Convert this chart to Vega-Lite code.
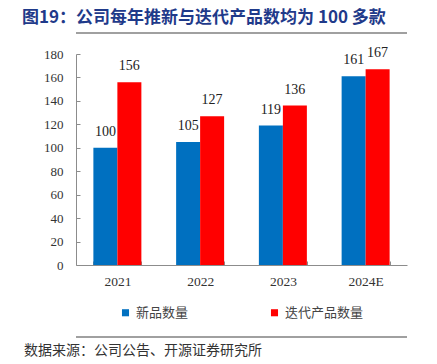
{
  "$schema": "https://vega.github.io/schema/vega-lite/v6.json",
  "background": "white",
  "padding": {"left": 22, "top": 8, "right": 5, "bottom": 5},
  "title": {
    "text": "数据来源：公司公告、开源证券研究所",
    "orient": "bottom",
    "anchor": "start",
    "frame": "group",
    "dx": -52,
    "offset": 6,
    "font": "Noto Sans CJK SC",
    "fontSize": 14,
    "fontWeight": "normal",
    "color": "#333333"
  },
  "config": {
    "view": {"stroke": null},
    "legend": {"layout": {"bottom": {"anchor": "middle"}}},
    "axis": {
      "labelFont": "Liberation Serif",
      "labelColor": "#333333",
      "domainColor": "#8c8c8c",
      "tickColor": "#8c8c8c",
      "grid": false,
      "title": null
    },
    "axisY": {
      "values": [0, 20, 40, 60, 80, 100, 120, 140, 160, 180],
      "labelFontSize": 13,
      "tickSize": -4,
      "labelPadding": 17
    }
  },
  "resolve": {"scale": {"color": "independent"}, "legend": {"color": "independent"}},
  "vconcat": [
    {
      "width": 331,
      "height": 211,
      "title": {
        "text": "图19：公司每年推新与迭代产品数均为 100 多款",
        "anchor": "start",
        "frame": "group",
        "dx": -54,
        "font": "Noto Sans CJK SC",
        "fontSize": 17,
        "fontWeight": "bold",
        "color": "#1f3a8a",
        "offset": 5
      },
      "data": {
        "values": [
          {"year": "2021", "series": "新品数量", "value": 100},
          {"year": "2021", "series": "迭代产品数量", "value": 156},
          {"year": "2022", "series": "新品数量", "value": 105},
          {"year": "2022", "series": "迭代产品数量", "value": 127},
          {"year": "2023", "series": "新品数量", "value": 119},
          {"year": "2023", "series": "迭代产品数量", "value": 136},
          {"year": "2024E", "series": "新品数量", "value": 161},
          {"year": "2024E", "series": "迭代产品数量", "value": 167}
        ]
      },
      "layer": [
        {
          "mark": {"type": "bar"},
          "encoding": {
            "x": {
              "field": "year",
              "type": "nominal",
              "sort": null,
              "scale": {"paddingInner": 0.42, "paddingOuter": 0.21},
              "axis": {
                "labelAngle": 0,
                "labelFontSize": 13.5,
                "tickBand": "extent",
                "tickSize": -4,
                "labelPadding": 13
              }
            },
            "xOffset": {"field": "series", "type": "nominal", "sort": ["新品数量", "迭代产品数量"]},
            "y": {
              "field": "value",
              "type": "quantitative",
              "scale": {"domain": [0, 180]}
            },
            "color": {
              "field": "series",
              "type": "nominal",
              "sort": ["新品数量", "迭代产品数量"],
              "scale": {"range": ["#0070c0", "#ff0000"]},
              "legend": {
                "orient": "bottom",
                "direction": "horizontal",
                "title": null,
                "symbolType": "square",
                "symbolSize": 50,
                "labelFont": "Noto Sans CJK SC",
                "labelFontSize": 13,
                "labelColor": "#444444",
                "labelOffset": 4,
                "columnPadding": 79,
                "offset": 18
              }
            }
          }
        },
        {
          "mark": {"type": "text", "baseline": "bottom", "dy": -9, "font": "Liberation Serif", "fontSize": 14, "color": "#222222"},
          "encoding": {
            "x": {"field": "year", "type": "nominal", "sort": null},
            "xOffset": {"field": "series", "type": "nominal", "sort": ["新品数量", "迭代产品数量"]},
            "y": {"field": "value", "type": "quantitative"},
            "text": {"field": "value", "type": "quantitative"}
          }
        },
        {
          "data": {"values": [{"pos": 198}, {"pos": -61.4}]},
          "mark": {"type": "rule", "clip": false, "stroke": "#a0a0a0", "strokeWidth": 2},
          "encoding": {
            "y": {"field": "pos", "type": "quantitative"},
            "x": {"value": 0},
            "x2": {"value": "width"}
          }
        }
      ]
    }
  ]
}
